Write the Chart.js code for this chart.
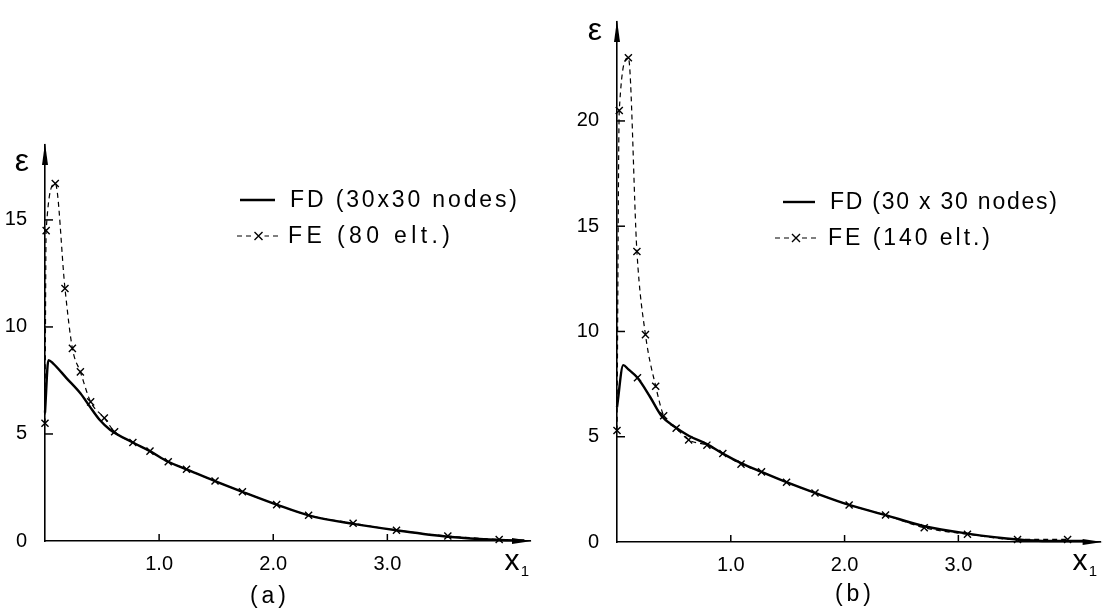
<!DOCTYPE html>
<html><head><meta charset="utf-8">
<script src="https://cdn.jsdelivr.net/npm/chart.js@4.4.1/dist/chart.umd.min.js"></script>
<style>
html,body{margin:0;padding:0;background:#fff;width:1107px;height:610px;overflow:hidden}
.p{position:absolute;top:0}
</style></head><body>
<div class="p" style="left:0"><canvas id="ca" width="560" height="610"></canvas></div>
<div class="p" style="left:560px"><canvas id="cb" width="547" height="610"></canvas></div>
<script>
// ---- data ----
const xTicks = [1, 2, 3];
const yTicksA = [0, 5, 10, 15];
const yTicksB = [0, 5, 10, 15, 20];

const labelsA = ["FD (30x30 nodes)", "FE (80 elt.)"];
const labelsB = ["FD (30 x 30 nodes)", "FE (140 elt.)"];

const fdAx = [0, 0.03, 0.07, 0.19, 0.31, 0.39, 0.48, 0.57, 0.77, 0.92, 1.08, 1.24, 1.49, 1.73, 2.03, 2.31, 2.70, 3.08, 3.53, 3.98, 4.2];
const fdAy = [6.0, 8.45, 8.3, 7.6, 6.9, 6.3, 5.65, 5.2, 4.6, 4.2, 3.7, 3.35, 2.8, 2.3, 1.7, 1.2, 0.8, 0.5, 0.2, 0.05, 0.02];
const feAx = [0, 0.01, 0.09, 0.175, 0.24, 0.31, 0.40, 0.52, 0.61, 0.77, 0.92, 1.08, 1.24, 1.49, 1.73, 2.03, 2.31, 2.70, 3.08, 3.53, 3.98];
const feAy = [5.5, 14.5, 16.7, 11.8, 9.0, 7.9, 6.5, 5.75, 5.1, 4.6, 4.2, 3.7, 3.35, 2.8, 2.3, 1.7, 1.2, 0.83, 0.5, 0.23, 0.07];

const fdBx = [0, 0.055, 0.1, 0.18, 0.29, 0.39, 0.50, 0.63, 0.79, 0.93, 1.09, 1.27, 1.49, 1.74, 2.04, 2.36, 2.70, 3.08, 3.52, 3.8, 4.1];
const fdBy = [6.4, 8.4, 8.2, 7.8, 6.9, 6.0, 5.5, 5.05, 4.65, 4.2, 3.75, 3.33, 2.84, 2.33, 1.76, 1.28, 0.75, 0.4, 0.12, 0.05, 0.05];
const feBx = [0, 0.02, 0.10, 0.175, 0.25, 0.34, 0.41, 0.52, 0.63, 0.79, 0.93, 1.09, 1.27, 1.49, 1.74, 2.04, 2.36, 2.70, 3.08, 3.52, 3.96];
const feBy = [5.3, 20.5, 23.0, 13.8, 9.85, 7.4, 6.0, 5.4, 4.85, 4.6, 4.2, 3.7, 3.33, 2.84, 2.33, 1.76, 1.28, 0.68, 0.37, 0.12, 0.12];
const extraBx = [0.18];
const extraBy = [7.8];

// ---- helpers ----
const FONT = "'Liberation Sans', Arial, sans-serif";
const pts = (xs, ys) => xs.map((v, i) => ({x: v, y: ys[i]}));

function spacedText(ctx, text, x, y, target, align) {
  ctx.letterSpacing = '0px';
  const w = ctx.measureText(text).width;
  const ls = Math.max(0, (target - w) / (text.length - 1));
  ctx.letterSpacing = ls + 'px';
  ctx.textAlign = 'left';
  const x0 = align === 'center' ? x - target / 2 : x;
  ctx.fillText(text, x0, y);
  ctx.letterSpacing = '0px';
}

function decorate(chart, o) {
  const {ctx, chartArea: ca, scales: {x, y}} = chart;
  ctx.save();
  ctx.strokeStyle = '#000'; ctx.fillStyle = '#000'; ctx.lineWidth = 1.5;
  y.ticks.forEach(t => {
    if (t.value === 0) return;
    const py = y.getPixelForValue(t.value);
    ctx.beginPath(); ctx.moveTo(ca.left, py); ctx.lineTo(ca.left + 8, py); ctx.stroke();
  });
  x.ticks.forEach(t => {
    const px = x.getPixelForValue(t.value);
    ctx.beginPath(); ctx.moveTo(px, ca.bottom); ctx.lineTo(px, ca.bottom - 7); ctx.stroke();
  });
  ctx.beginPath(); ctx.moveTo(ca.left, ca.top - 2); ctx.lineTo(ca.left - 3, ca.top + 20); ctx.lineTo(ca.left + 3, ca.top + 20); ctx.closePath(); ctx.fill();
  ctx.beginPath(); ctx.moveTo(ca.right + 2, ca.bottom); ctx.lineTo(ca.right - 18, ca.bottom - 3); ctx.lineTo(ca.right - 18, ca.bottom + 3); ctx.closePath(); ctx.fill();
  ctx.textAlign = 'center'; ctx.textBaseline = 'middle';
  ctx.font = '32px ' + FONT;
  ctx.fillText('ε', o.eps[0], o.eps[1]);
  ctx.font = '30px ' + FONT;
  ctx.fillText('x', o.x1[0], o.x1[1] - 3);
  ctx.font = '15px ' + FONT;
  ctx.fillText('1', o.x1[0] + 13, o.x1[1] + 7);
  ctx.font = '23px ' + FONT;
  spacedText(ctx, o.panel, o.pl[0], o.pl[1], 36, 'center');
  ctx.font = '23px ' + FONT;
  o.leg.forEach((r, i) => {
    const ds = chart.data.datasets[i];
    ctx.save();
    ctx.lineWidth = ds.borderWidth;
    ctx.setLineDash(ds.borderDash || []);
    ctx.beginPath(); ctx.moveTo(r.l0, r.y); ctx.lineTo(r.l1, r.y); ctx.stroke();
    ctx.restore();
    if (ds.pointRadius > 0) {
      const cx = (r.l0 + r.l1) / 2, s = 4;
      ctx.fillStyle = '#fff'; ctx.fillRect(cx - 6, r.y - 5, 12, 10); ctx.fillStyle = '#000';
      ctx.lineWidth = 1.4;
      ctx.beginPath(); ctx.moveTo(cx - s, r.y - s); ctx.lineTo(cx + s, r.y + s);
      ctx.moveTo(cx + s, r.y - s); ctx.lineTo(cx - s, r.y + s); ctx.stroke();
    }
    spacedText(ctx, ds.label, r.tx, r.y + 1, r.tw, 'left');
  });
  ctx.restore();
}

const optsA = {eps: [22, 162], x1: [512, 565], panel: '(a)', pl: [268, 597],
  leg: [{l0: 240, l1: 275, y: 200, tx: 290, tw: 227}, {l0: 237, l1: 280, y: 236, tx: 288, tw: 162}]};
const optsB = {eps: [35, 31], x1: [520, 565], panel: '(b)', pl: [293, 595],
  leg: [{l0: 223, l1: 255, y: 202, tx: 270, tw: 227}, {l0: 215, l1: 257, y: 238, tx: 268, tw: 162}]};

function build(id, fdx, fdy, fex, fey, exx, exy, labels, yTicks, ymax, top, bottomAxis, left, right, opts) {
  const plugin = {id: 'deco', afterDraw: c => decorate(c, opts)};
  const datasets = [
    {label: labels[0], data: pts(fdx, fdy), borderColor: '#000', borderWidth: 2.4, pointRadius: 0,
     cubicInterpolationMode: 'monotone', clip: false},
    {label: labels[1], data: pts(fex, fey), borderColor: '#000', borderWidth: 1.2, borderDash: [5, 4],
     pointStyle: 'crossRot', pointRadius: 5, pointBorderWidth: 1.4, pointBorderColor: '#000',
     cubicInterpolationMode: 'monotone', clip: false}
  ];
  if (exx.length) datasets.push({label: '', data: pts(exx, exy), showLine: false, pointStyle: 'crossRot',
     pointRadius: 5, pointBorderWidth: 1.4, pointBorderColor: '#000', borderWidth: 0, clip: false});
  return new Chart(document.getElementById(id), {
    type: 'line',
    data: {datasets},
    plugins: [plugin],
    options: {
      responsive: false, animation: false, devicePixelRatio: 1,
      layout: {padding: {top: top, bottom: 0, left: 0, right: right}},
      plugins: {legend: {display: false}, tooltip: {enabled: false}},
      scales: {
        x: {type: 'linear', min: 0, max: 4.25,
            grid: {display: false}, border: {display: true, color: '#000', width: 1.6},
            afterBuildTicks: s => { s.ticks = xTicks.map(v => ({value: v})); },
            afterFit: s => { s.height = 610 - bottomAxis; },
            ticks: {color: '#000', padding: 3, font: {family: FONT, size: 20}, callback: v => Number(v).toFixed(1)}},
        y: {type: 'linear', min: 0, max: ymax,
            grid: {display: false}, border: {display: true, color: '#000', width: 1.6},
            afterBuildTicks: s => { s.ticks = yTicks.map(v => ({value: v})); },
            afterFit: s => { s.width = left; },
            ticks: {color: '#000', padding: 10, font: {family: FONT, size: 20}, callback: v => String(v)}}
      }
    }
  });
}

build('ca', fdAx, fdAy, feAx, feAy, [], [], labelsA, yTicksA, 18.5, 145, 541, 45, 30, optsA);
build('cb', fdBx, fdBy, feBx, feBy, extraBx, extraBy, labelsB, yTicksB, 24.7, 8, 542, 57, 5, optsB);
</script>
</body></html>
